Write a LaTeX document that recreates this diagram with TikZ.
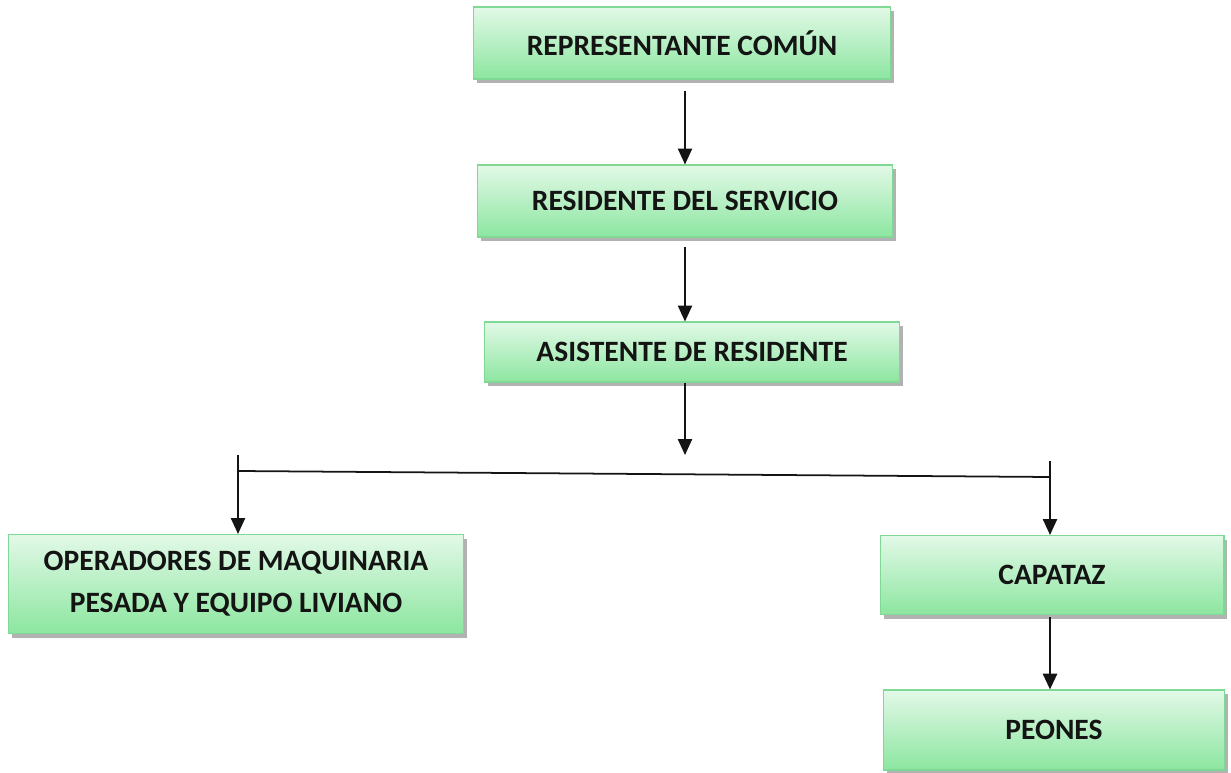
\documentclass[tikz,border=0pt]{standalone}
\usepackage{fontspec}
\setmainfont{Carlito}
\usepackage{tikz}
\usepackage{xcolor}
\usetikzlibrary{positioning, arrows.meta, calc, shadows}
\definecolor{leaf}{HTML}{8CE6A0}
\definecolor{leafedge}{HTML}{7FD893}
\definecolor{ink}{HTML}{141414}

\begin{document}
\begin{tikzpicture}[x=0.02cm, y=-0.02cm,
    cargo/.style={draw=leafedge, line width=0.6pt, top color=leaf!25, middle color=white, bottom color=leaf,
      drop shadow={shadow xshift=2pt, shadow yshift=-2.5pt, opacity=0.5, fill=black!60},
      align=center, text=ink, font=\fontsize{16.8}{24}\selectfont\bfseries, inner sep=0pt},
    flecha/.style={draw=ink, line width=1pt, -{Triangle[width=8pt, length=9pt]}}]
    \useasboundingbox (0,0) rectangle (1231,773);
    % cargos
    \node[cargo, minimum width=8.34cm, minimum height=1.44cm] (rep) at (682,43) {REPRESENTANTE COMÚN};
    \node[cargo, minimum width=8.32cm, minimum height=1.44cm] (res) at (685,201) {RESIDENTE DEL SERVICIO};
    \node[cargo, minimum width=8.32cm, minimum height=1.20cm] (asis) at (692,352) {ASISTENTE DE RESIDENTE};
    \node[cargo, minimum width=9.10cm, minimum height=1.98cm] (oper) at (236,584) {OPERADORES DE MAQUINARIA\\PESADA Y EQUIPO LIVIANO};
    \node[cargo, minimum width=6.88cm, minimum height=1.58cm] (cap) at (1052,575) {CAPATAZ};
    \node[cargo, minimum width=6.82cm, minimum height=1.60cm] (peo) at (1054,730) {PEONES};
    % puntos libres
    \coordinate (split) at (685,455);
    \coordinate (hl) at (238,471);
    \coordinate (hr) at (1050,477);
    \coordinate (lt) at (238,455);
    \coordinate (rt) at (1050,461);
    % conectores
    \draw[flecha, shorten <=0.22cm] (rep.south -| res.north) -- (res.north);
    \draw[flecha, shorten <=0.18cm] (res.south) -- (res.south |- asis.north);
    \draw[flecha] (asis.south -| split) -- (split);
    \draw[draw=ink, line width=1pt] (hl) -- (hr);
    \draw[flecha] (lt) -- (lt |- oper.north);
    \draw[flecha] (rt) -- (rt |- cap.north);
    \draw[flecha, line width=1.5pt, shorten <=0.04cm] (cap.south -| rt) -- (rt |- peo.north);
  \end{tikzpicture}
\end{document}
